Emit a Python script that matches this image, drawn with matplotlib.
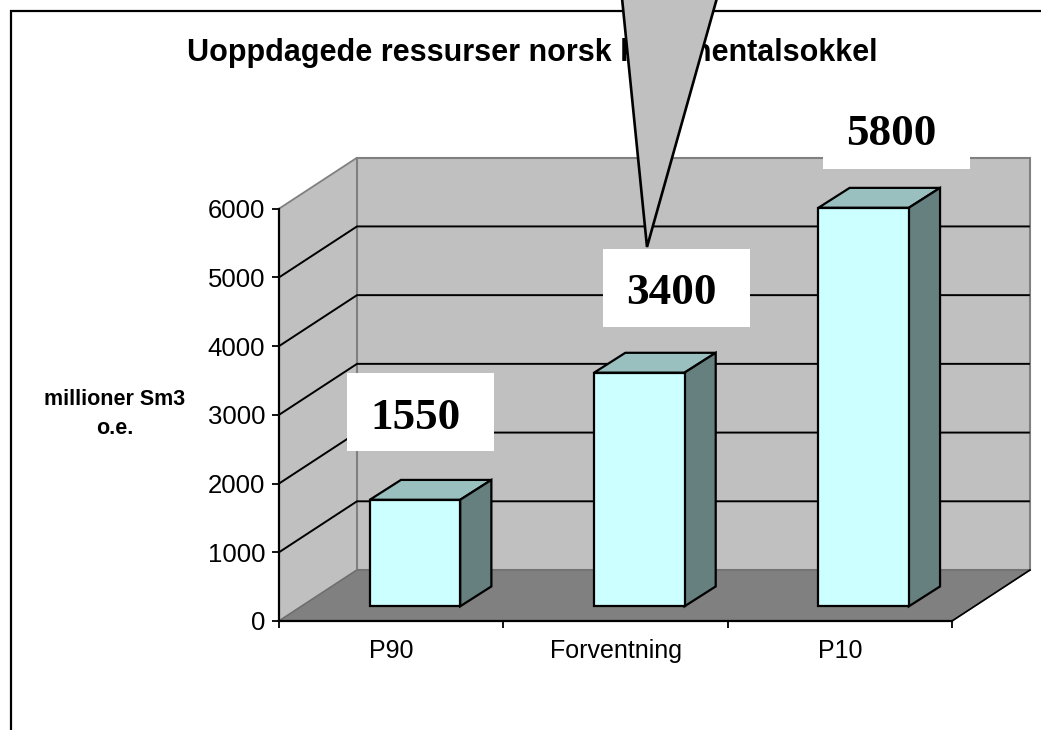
import matplotlib
matplotlib.use('Agg')
import matplotlib.pyplot as plt
from matplotlib.lines import Line2D
from matplotlib.patches import Polygon, Rectangle
from matplotlib.transforms import Affine2D

categories = ['P90', 'Forventning', 'P10']
values = [1550, 3400, 5800]
value_labels = ['1550', '3400', '5800']
y_ticks = [0, 1000, 2000, 3000, 4000, 5000, 6000]
title = 'Uoppdagede ressurser norsk kontinentalsokkel'
y_label = 'millioner Sm3\no.e.'

W, H = 1041, 730
SANS = 'Liberation Sans'
SERIF = 'Liberation Serif'

# floor depth in axis units (x in categories, y in value units)
depth_x = 78 / 224.33
depth_y = 742
bar_start = 0.288   # how far in the floor the bars start
bar_depth_x = 0.4
bar_depth_y = 0.39
bar_width = 0.403

wall_c = '#C0C0C0'
floor_c = '#808080'
front_c = '#CCFFFF'
top_c = '#99C0BF'
side_c = '#667F7F'

fig = plt.figure(figsize=(W / 100, H / 100), dpi=100)
ax = fig.add_axes([279 / W, (H - 621) / H, 673 / W, 412.3 / H])
ax.set_xlim(0, 3)
ax.set_ylim(0, 6000)
ax.patch.set_visible(False)

n = len(categories)
top = y_ticks[-1]

# walls and floor
ax.add_patch(Polygon([(0, 0), (depth_x, depth_y), (depth_x, top + depth_y), (0, top)],
                     fc=wall_c, ec=floor_c, lw=1.3, clip_on=False, zorder=1))
ax.add_patch(Polygon([(depth_x, depth_y), (n + depth_x, depth_y), (n + depth_x, top + depth_y), (depth_x, top + depth_y)],
                     fc=wall_c, ec=floor_c, lw=1.5, clip_on=False, zorder=1))
ax.add_patch(Polygon([(0, 0), (n, 0), (n + depth_x, depth_y), (depth_x, depth_y)],
                     fc=floor_c, ec='#6E6E6E', lw=1.0, clip_on=False, zorder=1.1))
ax.plot([n, n + depth_x], [0, depth_y], color='black', lw=1.2, clip_on=False, zorder=1.2)

# gridlines on both walls
for t in y_ticks[1:-1]:
    ax.plot([0, depth_x, n + depth_x - 0.005], [t, t + depth_y, t + depth_y], color='black', lw=1.4,
            clip_on=False, zorder=2, solid_joinstyle='miter')

# bars
for i, v in enumerate(values):
    x0 = i + 0.5 - bar_width / 2 + bar_start * depth_x + 0.006
    x1 = x0 + bar_width
    base = bar_start * depth_y
    dx = bar_depth_x * depth_x
    dy = bar_depth_y * depth_y
    ax.bar(x0, v, width=bar_width, bottom=base, align='edge', color=front_c, edgecolor='black',
           linewidth=1.6, clip_on=False, zorder=4)
    ax.add_patch(Polygon([(x0, base + v), (x1, base + v), (x1 + dx, base + v + dy), (x0 + dx, base + v + dy)],
                         fc=top_c, ec='black', lw=1.6, clip_on=False, zorder=3))
    ax.add_patch(Polygon([(x1, base), (x1 + dx, base + dy), (x1 + dx, base + v + dy), (x1, base + v)],
                         fc=side_c, ec='black', lw=1.6, clip_on=False, zorder=3))

# axes
for s in ['top', 'right']:
    ax.spines[s].set_visible(False)
for s in ['left', 'bottom']:
    ax.spines[s].set_linewidth(1.6)
    ax.spines[s].set_zorder(5)
ax.set_yticks(y_ticks)
ax.set_yticklabels([str(t) for t in y_ticks], fontsize=18.5, family=SANS)
ax.tick_params(axis='y', length=5, width=1.3, pad=5)
ax.set_xticks(range(n + 1))
ax.set_xticklabels([])
ax.tick_params(axis='x', which='major', length=5, width=1.3)
ax.set_xticks([i + 0.5 for i in range(n)], minor=True)
ax.set_xticklabels(categories, minor=True, fontsize=18, family=SANS)
ax.tick_params(axis='x', which='minor', length=0, pad=13)

# everything below is placed in image pixels
px = Affine2D().scale(1 / W, -1 / H).translate(0, 1) + fig.transFigure

fig.add_artist(Line2D([11, 11, W], [H, 11, 11], color='black', lw=1.6, transform=px, zorder=2,
                      solid_joinstyle='miter'))
fig.text(532, 53, title, transform=px, fontsize=22, family=SANS, weight='bold', ha='center', va='center', zorder=3)
fig.text(115, 414, y_label, transform=px, fontsize=15.5, family=SANS, weight='bold', ha='center', va='center',
         linespacing=1.5, zorder=3)

# white boxes with the values
box_x = [347, 603, 823]
box_y = [373, 249, 91]
text_x = [416, 671, 891]
text_y = [418, 293, 134]
for i, lab in enumerate(value_labels):
    fig.add_artist(Rectangle((box_x[i], box_y[i]), 146.5, 78, fc='white', ec='none', transform=px, zorder=4))
    fig.text(text_x[i], text_y[i], lab, transform=px, fontsize=32.5, family=SERIF, weight='bold',
             ha='center', va='center', zorder=6)

# callout wedge coming in from above
fig.add_artist(Polygon([(622, -2), (647, 247), (717, -2)], closed=False, fc=wall_c, ec='black', lw=1.9,
                       transform=px, zorder=5, joinstyle='miter'))

fig.savefig('out.png', dpi=100)
